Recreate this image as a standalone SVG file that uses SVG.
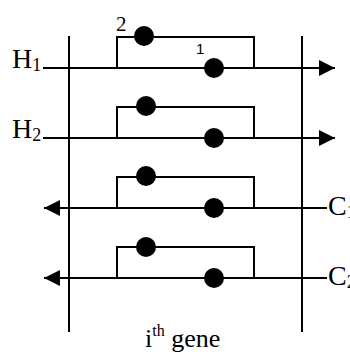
<svg xmlns="http://www.w3.org/2000/svg" width="350" height="354" viewBox="0 0 350 354">
<style>
.ln{stroke:#000;stroke-width:2;fill:none}
.dot{fill:#000}
.t{font-family:"Liberation Serif","Times New Roman",serif;fill:#000}
.s{font-family:"Liberation Sans",Arial,sans-serif;fill:#000}
</style>
<defs>
<marker id="ah" markerWidth="16" markerHeight="16" refX="16" refY="8" orient="auto" markerUnits="userSpaceOnUse">
<path d="M0,0 L16,8 L0,16 Z" fill="#000"/>
</marker>
</defs>
<g id="connectors">
<line class="ln" x1="69" y1="36" x2="69" y2="332"/>
<line class="ln" x1="302" y1="36" x2="302" y2="332"/>
<line class="ln" x1="43" y1="68" x2="335" y2="68" marker-end="url(#ah)"/>
<line class="ln" x1="43" y1="138" x2="335" y2="138" marker-end="url(#ah)"/>
<line class="ln" x1="327" y1="208" x2="44" y2="208" marker-end="url(#ah)"/>
<line class="ln" x1="327" y1="278" x2="44" y2="278" marker-end="url(#ah)"/>
</g>
<g id="gene1">
<polyline class="ln" points="117,68 117,37 254,37 254,68"/>
<circle class="dot" cx="144" cy="36" r="10"/>
<circle class="dot" cx="214" cy="68" r="10"/>
</g>
<g id="gene2">
<polyline class="ln" points="117,138 117,107 254,107 254,138"/>
<circle class="dot" cx="146" cy="106" r="10"/>
<circle class="dot" cx="214" cy="138" r="10"/>
</g>
<g id="gene3">
<polyline class="ln" points="117,208 117,177 254,177 254,208"/>
<circle class="dot" cx="146" cy="176" r="10"/>
<circle class="dot" cx="214" cy="208" r="10"/>
</g>
<g id="gene4">
<polyline class="ln" points="117,278 117,247 254,247 254,278"/>
<circle class="dot" cx="146" cy="247" r="10"/>
<circle class="dot" cx="214" cy="278" r="10"/>
</g>
<g id="labels">
<text class="t" x="116" y="31" font-size="21">2</text>
<text class="s" x="196" y="54" font-size="15">1</text>
<text class="t" x="12" y="68" font-size="28">H<tspan font-size="18" dy="3">1</tspan></text>
<text class="t" x="12" y="138" font-size="28">H<tspan font-size="18" dy="3">2</tspan></text>
<text class="t" x="328" y="215" font-size="28">C<tspan font-size="18" dy="3">1</tspan></text>
<text class="t" x="328" y="285" font-size="28">C<tspan font-size="18" dy="3">2</tspan></text>
<text class="t" x="145" y="347" font-size="26">i<tspan font-size="16" dy="-11">th</tspan><tspan dy="11"> gene</tspan></text>
</g>
</svg>
